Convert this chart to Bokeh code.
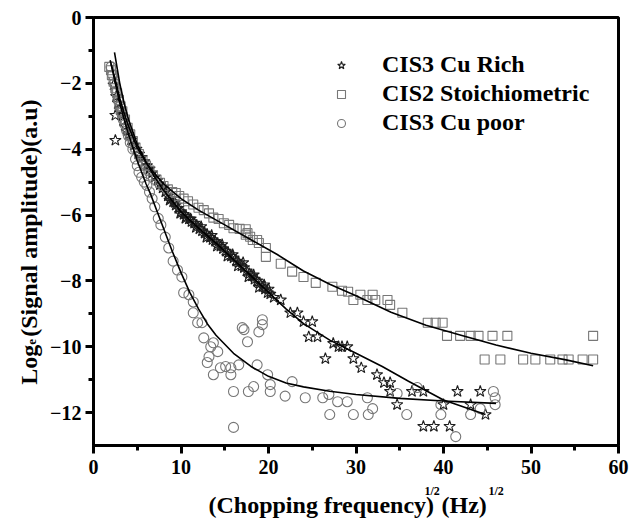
from bokeh.plotting import figure
from bokeh.models import Range1d, Legend, LegendItem, FixedTicker
from bokeh.core.properties import value
from bokeh.embed import file_html
from bokeh.resources import INLINE
import math

# ---------------- data ----------------
series_names = ["CIS3 Cu Rich", "CIS2 Stoichiometric", "CIS3 Cu poor"]

cu_rich = [
    (2.5, -3.73), (2.5, -2.97), (2.3, -2.05), (2.6, -2.4), (2.8, -2.6), (3.0, -2.8),
    (3.2, -2.95), (3.4, -3.15), (3.6, -3.3), (3.8, -3.45), (4.0, -3.55), (4.3, -3.72),
    (4.6, -3.88), (4.9, -4.0), (5.2, -4.15), (5.5, -4.25), (5.8, -4.38), (6.1, -4.5),
    (6.4, -4.6), (6.7, -4.72), (7.0, -4.85), (7.3, -4.95), (7.6, -5.08), (7.9, -5.18),
    (8.2, -5.3), (8.5, -5.42), (8.8, -5.5), (9.1, -5.6), (9.4, -5.7), (9.7, -5.8),
    (10.0, -5.9), (10.3, -5.98), (10.6, -6.05), (10.9, -6.12), (11.2, -6.2), (11.5, -6.25),
    (11.8, -6.32), (12.1, -6.42), (12.4, -6.48), (12.7, -6.55), (13.0, -6.6), (13.3, -6.68),
    (13.6, -6.75), (13.9, -6.8), (14.2, -6.88), (14.5, -6.95), (14.8, -7.02), (15.1, -7.1),
    (15.4, -7.15), (15.7, -7.25), (16.0, -7.3), (16.3, -7.4), (16.6, -7.45), (16.9, -7.55),
    (17.2, -7.6), (17.5, -7.7), (17.8, -7.78), (18.1, -7.85), (18.4, -7.95), (18.7, -8.0),
    (19.0, -8.08), (19.3, -8.18), (19.6, -8.25), (19.9, -8.36), (20.2, -8.4),
    (8.0, -5.15), (8.7, -5.55), (9.3, -5.62), (9.9, -5.95), (10.5, -6.1), (11.1, -6.12),
    (11.7, -6.38), (12.3, -6.35), (12.9, -6.68), (13.5, -6.62), (14.1, -6.95), (14.7, -6.9),
    (15.3, -7.25), (15.9, -7.2), (16.5, -7.55), (17.1, -7.45), (17.7, -7.88), (18.3, -7.82),
    (18.9, -8.2), (19.5, -8.12), (20.0, -8.25), (20.6, -8.5),
    (21.4, -8.58), (22.5, -8.97), (23.3, -8.97), (24.0, -9.24), (25.0, -9.24), (24.6, -9.7),
    (25.6, -9.7), (26.5, -10.36), (27.4, -9.9), (28.0, -10.0), (28.4, -10.0), (29.0, -10.0),
    (29.7, -10.36), (30.6, -10.64), (32.4, -10.85), (33.2, -11.09), (33.9, -11.09),
    (33.9, -11.36), (34.7, -11.76), (36.4, -11.36), (37.7, -11.36), (37.7, -12.42),
    (38.9, -12.42), (40.0, -11.76), (40.7, -12.42), (41.6, -11.36), (43.1, -11.76),
    (44.2, -11.36), (44.8, -12.06),
]

stoichiometric = [
    (1.8, -1.5), (2.0, -1.6), (2.1, -1.75), (2.3, -1.95), (2.5, -2.15), (2.7, -2.3),
    (2.9, -2.5), (3.1, -2.7), (3.3, -2.85), (3.6, -3.1), (3.9, -3.35), (4.2, -3.55),
    (4.5, -3.75), (4.8, -3.95), (5.2, -4.15), (5.6, -4.35), (6.0, -4.5), (6.4, -4.65),
    (6.8, -4.8), (7.2, -4.92), (7.6, -5.02), (8.0, -5.12), (8.5, -5.22), (9.0, -5.3),
    (9.4, -5.33), (9.8, -5.42), (10.3, -5.5), (10.8, -5.58), (11.4, -5.68), (12.0, -5.78),
    (12.6, -5.85), (13.2, -5.95), (13.7, -6.08), (14.3, -6.12), (14.9, -6.25), (15.5, -6.3),
    (16.0, -6.4), (16.7, -6.42), (17.4, -6.43), (17.4, -6.6), (17.6, -6.55), (17.9, -6.66),
    (18.2, -6.76), (18.7, -6.76), (18.9, -6.85), (19.7, -7.0), (19.7, -7.27), (21.4, -7.48),
    (22.7, -7.72), (24.0, -7.88), (25.4, -8.06), (27.3, -8.18), (28.4, -8.3), (29.1, -8.33),
    (29.7, -8.58), (30.5, -8.42), (31.3, -8.58), (31.9, -8.42), (32.2, -8.58), (33.6, -8.58),
    (33.9, -8.73), (35.3, -8.97), (38.2, -9.27), (39.1, -9.27), (39.9, -9.27),
    (40.4, -9.67), (41.9, -9.67), (43.1, -9.67), (44.0, -9.67), (45.6, -9.67), (47.3, -9.67),
    (57.1, -9.67),
    (44.7, -10.39), (46.5, -10.39), (49.1, -10.39), (50.5, -10.39), (52.2, -10.39),
    (53.6, -10.39), (54.3, -10.39), (55.9, -10.39), (57.1, -10.39),
]

cu_poor = [
    (2.0, -1.5), (2.2, -1.75), (2.4, -2.0), (2.6, -2.25), (2.8, -2.5), (3.0, -2.7),
    (3.2, -2.9), (3.4, -3.1), (3.6, -3.25), (3.8, -3.45), (4.0, -3.6), (4.2, -3.8),
    (4.5, -4.0), (4.8, -4.3), (5.0, -4.5), (5.2, -4.7), (5.5, -4.85), (5.8, -5.0),
    (6.1, -5.1), (6.4, -5.3), (6.7, -5.5), (7.0, -5.75), (7.4, -6.1), (7.7, -6.3),
    (8.2, -6.67), (8.6, -7.0), (9.1, -7.4), (9.6, -7.67), (10.1, -7.88), (10.3, -8.36),
    (10.9, -8.42), (11.4, -8.64), (11.4, -8.97), (11.9, -9.27), (12.4, -9.27), (12.6, -9.73),
    (13.4, -10.0), (13.7, -9.88), (13.0, -10.48), (13.2, -10.3), (14.2, -10.15), (13.7, -10.85),
    (14.5, -10.64), (15.1, -10.6), (15.7, -10.64), (15.7, -10.85), (16.0, -11.36), (16.0, -12.45),
    (16.6, -10.55), (17.0, -9.42), (17.2, -9.48), (17.6, -9.85), (17.7, -11.36), (18.3, -11.21),
    (18.7, -10.55), (18.9, -9.55), (19.3, -9.18), (19.3, -9.33), (19.9, -10.85), (20.2, -11.15),
    (20.2, -11.36), (21.9, -11.5), (22.7, -11.06), (24.2, -11.55), (26.2, -11.55), (26.9, -11.45),
    (27.0, -12.06), (27.9, -11.67), (29.0, -11.67), (29.7, -12.06), (31.3, -11.55), (31.4, -12.06),
    (31.9, -11.88), (34.7, -11.42), (35.8, -12.06), (37.0, -11.24), (39.7, -11.76), (39.7, -12.06),
    (41.4, -12.73), (43.1, -12.06), (44.2, -11.88), (45.7, -11.36), (45.9, -11.55), (45.9, -11.76),
]

# fitted curves
fit_rich_x = [2.4, 3, 3.5, 4, 5, 6, 7, 8, 10, 12, 14, 16, 18, 20, 22, 24, 27, 30, 33, 36, 40, 44.8]
fit_rich_y = [-1.06, -2.0, -2.6, -3.1, -3.85, -4.4, -4.85, -5.25, -5.9, -6.4, -6.85, -7.35,
              -7.85, -8.35, -8.85, -9.3, -9.8, -10.2, -10.6, -11.05, -11.62, -12.06]
fit_stoich_x = [1.9, 2.5, 3, 3.5, 4, 5, 6, 7, 8, 10, 12, 15, 18, 21, 24, 27, 30, 34, 38, 42, 46, 50, 54, 57.1]
fit_stoich_y = [-1.3, -1.9, -2.45, -2.9, -3.3, -3.95, -4.4, -4.75, -5.05, -5.5, -5.85, -6.3,
                -6.75, -7.2, -7.7, -8.1, -8.45, -8.95, -9.35, -9.65, -9.95, -10.2, -10.4, -10.58]
fit_poor_x = [2.0, 2.5, 3, 3.5, 4, 4.5, 5, 5.5, 6, 6.5, 7, 7.5, 8, 8.5, 9, 10, 11, 12, 13, 14,
              16, 18, 20, 22, 24, 27, 30, 35, 40, 46]
fit_poor_y = [-1.4, -2.0, -2.6, -3.1, -3.55, -3.95, -4.35, -4.7, -5.05, -5.35, -5.7, -6.05,
              -6.4, -6.75, -7.1, -7.75, -8.35, -8.85, -9.3, -9.65, -10.2, -10.6, -10.9, -11.1,
              -11.22, -11.35, -11.45, -11.57, -11.65, -11.72]

x_ticks = [0, 10, 20, 30, 40, 50, 60]
x_minor = [5, 15, 25, 35, 45, 55]
y_ticks = [0, -2, -4, -6, -8, -10, -12]
y_minor = [-1, -3, -5, -7, -9, -11]

x_title_parts = ["(Chopping frequency)", "1/2", "(Hz)", "1/2"]
y_title_parts = ["Log", "e", "(Signal amplitude)(a.u)"]

# ---------------- figure ----------------
FONT = "Liberation Serif"
p = figure(width=630, height=521, x_range=Range1d(0, 60), y_range=Range1d(-13, 0),
           output_backend="svg", toolbar_location=None,
           min_border_left=93, min_border_right=12, min_border_top=17, min_border_bottom=76)
p.xgrid.visible = False
p.ygrid.visible = False
p.outline_line_color = "black"
p.outline_line_width = 3
p.background_fill_color = "white"

for ax, ticks, minor in ((p.xaxis, x_ticks, x_minor), (p.yaxis, y_ticks, y_minor)):
    ax.ticker = FixedTicker(ticks=ticks, minor_ticks=minor)
    ax.axis_line_width = 3
    ax.axis_line_color = "black"
    ax.major_tick_line_width = 3
    ax.minor_tick_line_width = 3
    ax.major_tick_out = 8
    ax.major_tick_in = 0
    ax.minor_tick_out = 5
    ax.minor_tick_in = 0
    ax.major_label_text_font = FONT
    ax.major_label_text_font_style = "bold"
    ax.major_label_text_font_size = "20px"
    ax.major_label_text_color = "black"
p.xaxis.major_label_standoff = 6
p.yaxis.major_label_standoff = 4

gray = "#777777"
r_rich = p.scatter([a for a, b in cu_rich], [b for a, b in cu_rich], marker="star", size=12,
                   line_color="#1e1e1e", fill_color=None, line_width=1.1)
r_stoich = p.scatter([a for a, b in stoichiometric], [b for a, b in stoichiometric], marker="square",
                     size=9, line_color=gray, fill_color=None, line_width=1.1)
r_poor = p.scatter([a for a, b in cu_poor], [b for a, b in cu_poor], marker="circle", size=10,
                   line_color=gray, fill_color=None, line_width=1.1)

for fx, fy in ((fit_rich_x, fit_rich_y), (fit_stoich_x, fit_stoich_y), (fit_poor_x, fit_poor_y)):
    p.line(fx, fy, line_color="black", line_width=1.6)

legend = Legend(items=[LegendItem(label=series_names[0], renderers=[r_rich]),
                       LegendItem(label=series_names[1], renderers=[r_stoich]),
                       LegendItem(label=series_names[2], renderers=[r_poor])],
                location=(238, 309), border_line_color=None, background_fill_alpha=0,
                padding=0, margin=0, spacing=2, glyph_width=20, glyph_height=20,
                label_height=20, label_standoff=31,
                label_text_font=FONT, label_text_font_style="bold",
                label_text_font_size="24px", label_text_color="black")
p.add_layout(legend)

# ---------------- axis titles (text glyphs drawn on the overlay level) ----------------
def px2x(px):
    return (px - 93) / 8.75

def py2y(py):
    return -(py - 17) / 33.0

tstyle = dict(text_font=value(FONT), text_font_style="bold", text_color="black",
              text_baseline="alphabetic", text_align="left", level="overlay")
p.text(x=[px2x(208), px2x(441)], y=[py2y(506), py2y(506)],
       text=[x_title_parts[0], x_title_parts[2]], text_font_size="24px", **tstyle)
p.text(x=[px2x(424), px2x(488)], y=[py2y(492), py2y(492)],
       text=[x_title_parts[1], x_title_parts[3]], text_font_size="12px", **tstyle)

ang = math.pi / 2
p.text(x=[px2x(28), px2x(28)], y=[py2y(385), py2y(337)],
       text=[y_title_parts[0], y_title_parts[2]], angle=ang, text_font_size="24px", **tstyle)
p.text(x=[px2x(31)], y=[py2y(345)], text=[y_title_parts[1]], angle=ang,
       text_font_size="13px", **tstyle)

open("out.html", "w").write(file_html(p, INLINE))
